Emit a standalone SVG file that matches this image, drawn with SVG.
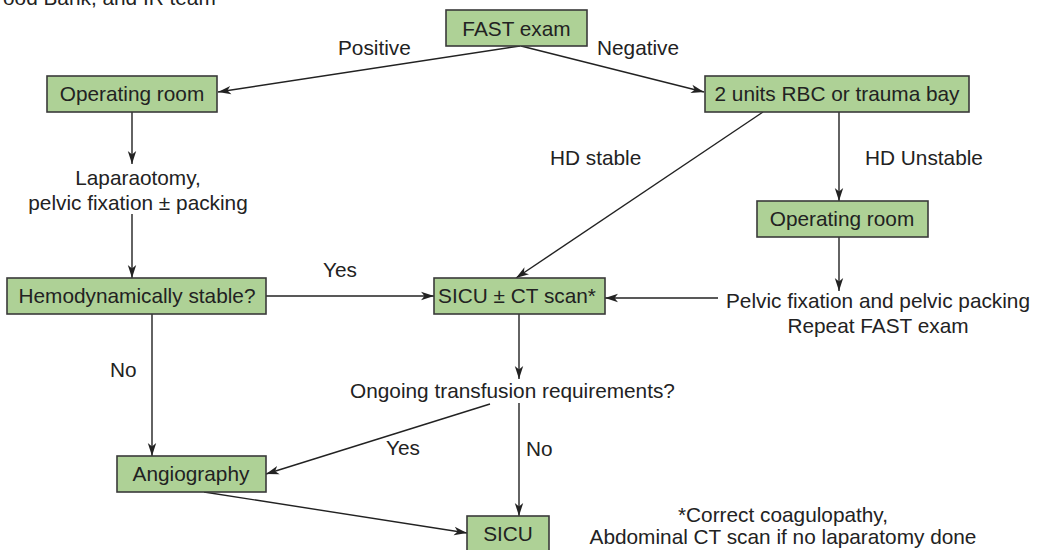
<svg xmlns="http://www.w3.org/2000/svg" width="1037" height="550" viewBox="0 0 1037 550">
<defs>
<style>
text{font-family:"Liberation Sans",Arial,Helvetica,sans-serif;font-size:20.8px;fill:#222}
.c{text-anchor:middle}
.box{fill:#aed196;stroke:#3a3a3a;stroke-width:1.6}
.ln{stroke:#222;stroke-width:1.4;fill:none}
.ar{marker-end:url(#ah)}
</style>
<marker id="ah" markerUnits="userSpaceOnUse" markerWidth="14" markerHeight="10" refX="13" refY="5" orient="auto">
<path d="M0,0.8 L13,5 L0,9.2 L3.5,5 Z" fill="#222"/>
</marker>
</defs>
<rect width="1037" height="550" fill="#fff"/>
<text x="3" y="5">ood Bank, and IR team</text>
<g id="connectors">
<line class="ln ar" x1="520" y1="46" x2="218" y2="92"/>
<line class="ln ar" x1="521" y1="46" x2="704" y2="92"/>
<line class="ln ar" x1="132" y1="112" x2="132" y2="164"/>
<line class="ln ar" x1="132" y1="214" x2="132" y2="278"/>
<line class="ln ar" x1="266" y1="296" x2="434" y2="296"/>
<line class="ln ar" x1="763" y1="112" x2="516" y2="278"/>
<line class="ln ar" x1="839" y1="112" x2="839" y2="201"/>
<line class="ln ar" x1="839" y1="237" x2="839" y2="291"/>
<line class="ln ar" x1="718" y1="298" x2="605" y2="298"/>
<line class="ln ar" x1="519" y1="314" x2="519" y2="379"/>
<line class="ln ar" x1="490" y1="404" x2="266" y2="474"/>
<line class="ln ar" x1="519" y1="403" x2="519" y2="516"/>
<line class="ln ar" x1="152" y1="314" x2="152" y2="456"/>
<line class="ln ar" x1="204" y1="492" x2="467" y2="533"/>
<text x="338" y="55">Positive</text>
<text x="597" y="55">Negative</text>
<text x="550" y="165">HD stable</text>
<text x="865" y="165">HD Unstable</text>
<text x="323" y="277">Yes</text>
<text x="110" y="377">No</text>
<text x="386" y="455">Yes</text>
<text x="526" y="456">No</text>
</g>
<g id="fast"><rect class="box" x="446" y="10" width="141" height="36"/><text class="c" x="516.5" y="35.5">FAST exam</text></g>
<g id="or-left"><rect class="box" x="47" y="76" width="170" height="36"/><text class="c" x="132" y="101">Operating room</text></g>
<g id="rbc"><rect class="box" x="705" y="76" width="264" height="36"/><text class="c" x="837" y="101">2 units RBC or trauma bay</text></g>
<g id="laparotomy"><text class="c" x="138" y="185">Laparaotomy,</text><text class="c" x="138" y="210">pelvic fixation ± packing</text></g>
<g id="or-right"><rect class="box" x="757" y="201" width="171" height="36"/><text class="c" x="842" y="226">Operating room</text></g>
<g id="pelvic"><text class="c" x="878" y="308">Pelvic fixation and pelvic packing</text><text class="c" x="878" y="333">Repeat FAST exam</text></g>
<g id="hemo"><rect class="box" x="7" y="278" width="259" height="36"/><text class="c" x="137" y="303">Hemodynamically stable?</text></g>
<g id="sicu-ct"><rect class="box" x="434" y="278" width="171" height="36"/><text class="c" x="517" y="303">SICU ± CT scan*</text></g>
<g id="ongoing"><text class="c" x="512.5" y="398">Ongoing transfusion requirements?</text></g>
<g id="angio"><rect class="box" x="117" y="456" width="149" height="36"/><text class="c" x="191" y="481">Angiography</text></g>
<g id="sicu"><rect class="box" x="467" y="516" width="82" height="36"/><text class="c" x="508" y="541">SICU</text></g>
<g id="footnote"><text class="c" x="783" y="522">*Correct coagulopathy,</text><text class="c" x="783" y="544">Abdominal CT scan if no laparatomy done</text></g>
</svg>
